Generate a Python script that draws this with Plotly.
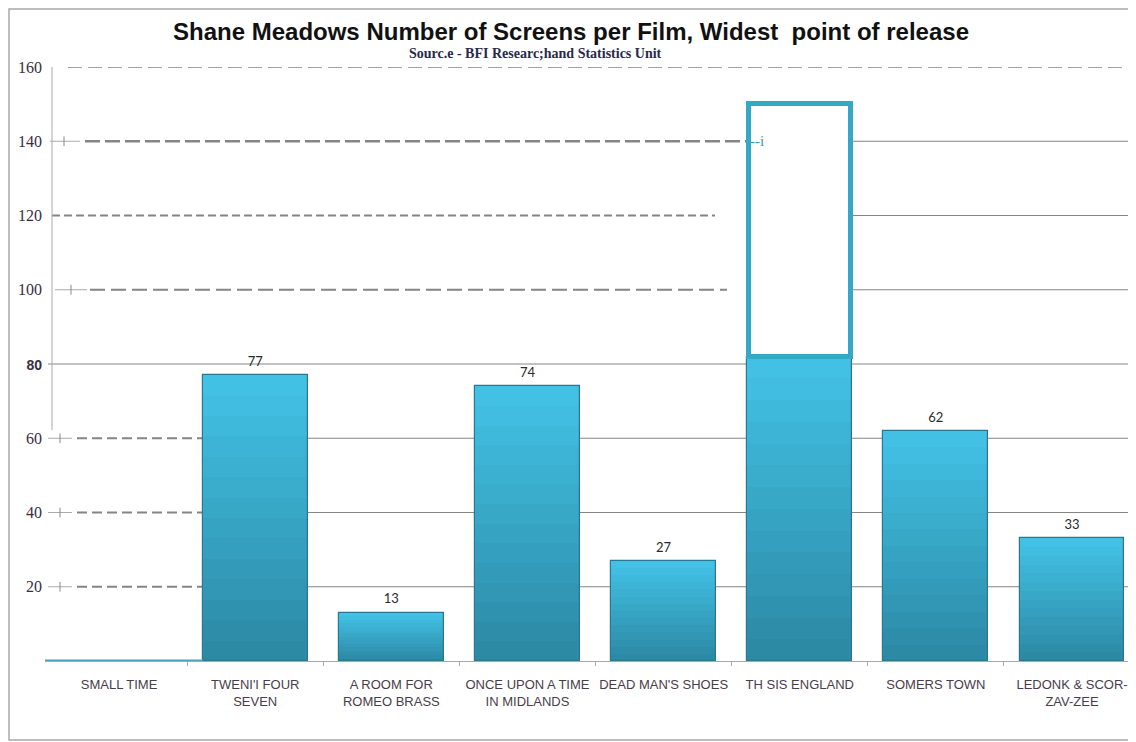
import plotly.graph_objects as go

# ---------------- data ----------------
films = ["SMALL TIME", "TWENI'I FOUR<br>SEVEN", "A ROOM FOR<br>ROMEO BRASS",
         "ONCE UPON A TIME<br>IN MIDLANDS", "DEAD MAN'S SHOES", "TH SIS ENGLAND",
         "SOMERS TOWN", "LEDONK & SCOR-<br>ZAV-ZEE"]
screens = [0, 77, 13, 74, 27, 150, 62, 33]        # widest point of release
filled = [0, 77, 13, 74, 27, 82, 62, 33]          # solid-filled part of each bar
value_labels = ["", "77", "13", "74", "27", "", "62", "33"]
y_tick_vals = [20, 40, 60, 80, 100, 120, 140, 160]
y_tick_text = ["20", "40", "60",
               "<span style='font-family:Liberation Sans;font-weight:bold;font-size:14px'>80</span>",
               "100", "120", "140", "160"]

# ---------------- geometry helpers (layout only) ----------------
OFF = 8                      # page body margin
W, H = 1136 - OFF, 742 - OFF
PLOT_L, PLOT_T, PLOT_B = 45, 67, 661      # window pixel positions of the plot area
ML, MR = PLOT_L - OFF, 0
MT, MB = PLOT_T - OFF, H - (PLOT_B - OFF)
PW = W - ML - MR
PH = H - MT - MB
X_RANGE = [-0.544, 7.47]
BAR_W = 0.77

def px_x(p):          # window pixel x -> paper x
    return (p - OFF - ML) / PW

def px_y(p):          # window pixel y -> paper y
    return (H - MB - (p - OFF)) / PH

xs = list(range(len(films)))
outline = [None if s == f else s - f for s, f in zip(screens, filled)]

fig = go.Figure()

# Small Time: zero-height bar shown as a teal baseline across its slot
fig.add_trace(go.Scatter(
    x=[X_RANGE[0], 1 - BAR_W / 2], y=[screens[0], screens[0]],
    mode="lines", line=dict(color="#4aa3bb", width=3),
    hoverinfo="skip", showlegend=False))

# bars with a stepped vertical gradient (light top -> dark bottom)
top_rgb = (0x42, 0xc1, 0xe5)
bot_rgb = (0x2c, 0x8a, 0xa5)
N = 14
for k in range(N):
    frac = 1 - k / N
    t = k / (N - 1)
    r, g, b = [int(round(a + (c - a) * t)) for a, c in zip(top_rgb, bot_rgb)]
    fig.add_trace(go.Bar(
        x=xs, y=[f * frac if f > 0 else None for f in filled], width=BAR_W,
        marker=dict(color=f"rgb({r},{g},{b})",
                    line=dict(color="#2a7f98", width=1 if k == 0 else 0)),
        showlegend=False, hoverinfo="skip"))
# dark side edges
fig.add_trace(go.Bar(
    x=xs, y=[f if f > 0 else None for f in filled], width=BAR_W,
    marker=dict(color="rgba(0,0,0,0)", line=dict(color="#2a7890", width=1.2)),
    showlegend=False, hoverinfo="skip"))

# hollow upper part of the tallest bar
fig.add_trace(go.Bar(
    x=xs, y=outline, base=filled, width=BAR_W * 0.97,
    marker=dict(color="white", line=dict(color="#35a8c8", width=5)),
    showlegend=False, hoverinfo="skip"))

# value labels
fig.add_trace(go.Scatter(
    x=xs, y=filled, mode="markers+text", text=value_labels,
    textposition="top center", cliponaxis=False,
    marker=dict(size=8, opacity=0),
    textfont=dict(family="Lato, Open Sans, sans-serif", size=13, color="#2a2a2a"),
    showlegend=False, hoverinfo="skip"))

# ---------------- grid lines (mixed dashed/solid as in the scan) ----------------
GRAY = "#858585"
grid_style = {
    160: [(68, 1136, "14px,6px", 1.5)],
    140: [(85, 760, "15px,5px", 2.5), (845, 1136, "solid", 1.2)],
    120: [(52, 715, "8px,4px", 2), (843, 1136, "solid", 1.2)],
    100: [(90, 727, "15px,6px", 2), (840, 1136, "solid", 1.2)],
    80: [(48, 1136, "solid", 1.2)],
    60: [(77, 203, "10px,5px", 2), (203, 1136, "solid", 1.2)],
    40: [(77, 203, "10px,5px", 2), (203, 1136, "solid", 1.2)],
    20: [(77, 203, "10px,5px", 2), (203, 1136, "solid", 1.2)],
}
shapes = []
for v in y_tick_vals:
    for x0, x1, dash, w in grid_style[v]:
        shapes.append(dict(type="line", xref="paper", yref="y",
                           x0=px_x(x0), x1=px_x(x1), y0=v, y1=v,
                           line=dict(color=GRAY, width=w, dash=dash), layer="below"))

# small cross ticks on the left
cross = {140: (50, 80, 64), 100: (55, 87, 71), 60: (48, 72, 60), 40: (48, 72, 60), 20: (48, 72, 60)}
for v, (a, b, c) in cross.items():
    shapes.append(dict(type="line", xref="paper", yref="y", x0=px_x(a), x1=px_x(b),
                       y0=v, y1=v, line=dict(color="#aaaaaa", width=1), layer="below"))
    shapes.append(dict(type="line", xref="paper", yref="y", x0=px_x(c), x1=px_x(c),
                       y0=v - 1.3, y1=v + 1.3,
                       line=dict(color="#888888", width=1), layer="below"))

# partial vertical axis line
shapes.append(dict(type="line", xref="paper", yref="paper", x0=px_x(52), x1=px_x(52),
                   y0=px_y(430), y1=px_y(67), line=dict(color="#aaaaaa", width=1)))
# frame around the whole chart
shapes.append(dict(type="rect", xref="paper", yref="paper",
                   x0=px_x(9), x1=px_x(1150), y0=px_y(740), y1=px_y(9),
                   line=dict(color="#a8a8a8", width=1.5), fillcolor="rgba(0,0,0,0)"))

annotations = [
    dict(text="<b>Shane Meadows Number of Screens per Film, Widest  point of release</b>",
         xref="paper", yref="paper", x=px_x(571), y=px_y(31), showarrow=False,
         xanchor="center", yanchor="middle",
         font=dict(family="Liberation Sans, Arial, sans-serif", size=24, color="#111111")),
    dict(text="<b>Sourc.e - BFI Researc;hand Statistics Unit</b>",
         xref="paper", yref="paper", x=px_x(535), y=px_y(53), showarrow=False,
         xanchor="center", yanchor="middle",
         font=dict(family="Liberation Serif, Times New Roman, serif", size=14, color="#2a2a4a")),
    dict(text="--i", xref="paper", yref="y", x=px_x(757), y=140, showarrow=False,
         xanchor="center", yanchor="middle",
         font=dict(family="Liberation Serif, serif", size=15, color="#3a9ab5")),
]

fig.update_layout(
    width=W, height=H,
    margin=dict(l=ML, r=MR, t=MT, b=MB),
    paper_bgcolor="white", plot_bgcolor="white",
    barmode="overlay", bargap=0,
    showlegend=False,
    shapes=shapes, annotations=annotations,
    xaxis=dict(range=X_RANGE, tickmode="array", tickvals=xs, ticktext=films,
               showgrid=False, zeroline=False, showline=True, linecolor="#aaaaaa",
               linewidth=1, ticks="", ticklabelstandoff=11,
               minor=dict(tickvals=[i + 0.5 for i in xs[:-1]], ticks="outside",
                          ticklen=4, tickcolor="#aaaaaa", showgrid=False),
               tickfont=dict(family="Liberation Sans Narrow, Arial Narrow, Liberation Sans, sans-serif",
                             size=13, color="#4a3d4a")),
    yaxis=dict(range=[0, 160], tickmode="array", tickvals=y_tick_vals, ticktext=y_tick_text,
               showgrid=False, zeroline=False, showline=False, ticks="",
               ticklabelstandoff=2,
               tickfont=dict(family="Liberation Serif, Times New Roman, serif",
                             size=16, color="#3a2e3e")),
)

fig.write_html("out.html")
